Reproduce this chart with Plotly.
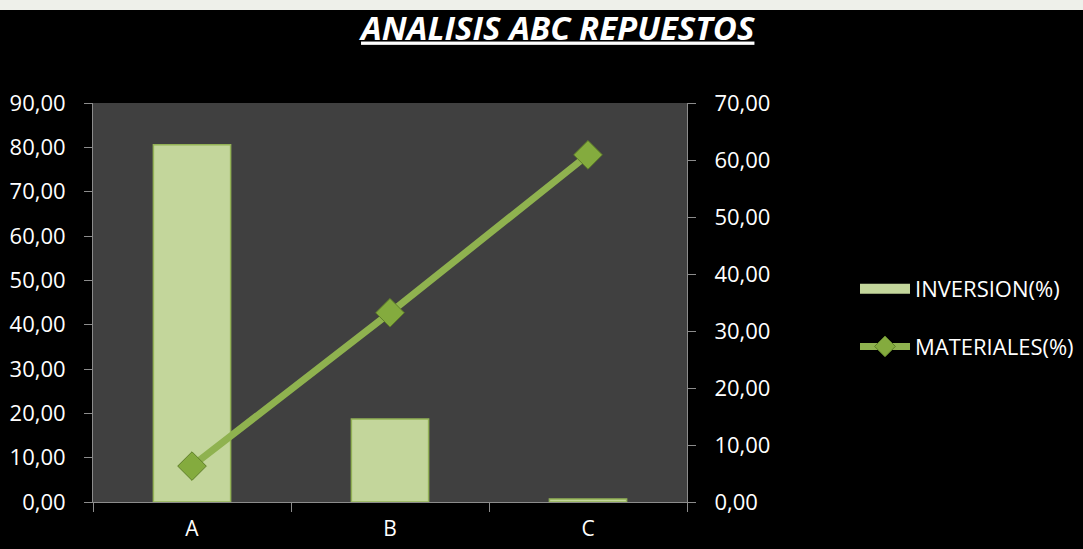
import plotly.graph_objects as go

categories = ["A", "B", "C"]
inversion = [80.6, 18.7, 0.7]
materiales = [6.3, 33.2, 60.9]

W, H = 1083, 549
L, R, T, B = 93, 396, 103, 47
ph = H - T - B

def py(p):
    return (H - B - p) / ph

fig = go.Figure()
fig.add_trace(go.Bar(
    x=categories, y=inversion, name="INVERSION(%)",
    width=0.39, showlegend=False,
    marker=dict(color="#c3d69b", line=dict(color="#93b256", width=1.5)),
))
# legend-only entry to mimic the wide bar swatch
fig.add_trace(go.Scatter(
    x=[None], y=[None], name="INVERSION(%)", mode="lines",
    line=dict(color="#c3d69b", width=14),
    legendgroup="g1",
))
fig.add_trace(go.Scatter(
    x=categories, y=materiales, name="MATERIALES(%)", yaxis="y2",
    mode="lines+markers",
    line=dict(color="#8fb24f", width=7),
    marker=dict(symbol="diamond", size=22, color="#84ab3e",
                line=dict(color="#5f7f2a", width=1)),
    legendgroup="g2",
))

font_family = "Open Sans"
fig.update_layout(
    width=W, height=H,
    margin=dict(l=L, r=R, t=T, b=B, autoexpand=False),
    paper_bgcolor="#000000",
    plot_bgcolor="#404040",
    separators=",.",
    font=dict(family=font_family, color="#ffffff", size=22),
    title=dict(
        text="<b><i><u>ANALISIS ABC REPUESTOS</u></i></b>",
        x=0.515, xanchor="center", y=1 - 28 / H, yanchor="middle",
        font=dict(size=33, color="#ffffff", family=font_family),
    ),
    xaxis=dict(
        showgrid=False, showline=True, linecolor="#8c8c8c", linewidth=1,
        ticks="outside", ticklen=9, tickcolor="#8c8c8c", tickson="boundaries",
        ticklabelstandoff=8, zeroline=False, automargin=False,
        tickfont=dict(size=21),
    ),
    yaxis=dict(
        range=[0, 90], dtick=10, tickformat=".2f",
        showgrid=False, showline=True, linecolor="#8c8c8c", linewidth=1,
        ticks="outside", ticklen=8, tickcolor="#8c8c8c", zeroline=False,
        ticklabelstandoff=14, automargin=False,
    ),
    yaxis2=dict(
        range=[0, 70], dtick=10, tickformat=".2f", overlaying="y", side="right",
        showgrid=False, showline=True, linecolor="#8c8c8c", linewidth=1,
        ticks="outside", ticklen=8, tickcolor="#8c8c8c", zeroline=False,
        ticklabelstandoff=14, automargin=False,
    ),
    legend=dict(
        x=(855 - L) / (W - L - R), xanchor="left",
        y=py(318), yanchor="middle",
        bgcolor="rgba(0,0,0,0)",
        font=dict(size=22, color="#ffffff", family=font_family),
        traceorder="grouped", tracegroupgap=26,
        itemwidth=50,
    ),
    shapes=[dict(
        type="rect", xref="paper", yref="paper",
        x0=(0 - L) / (W - L - R), x1=(W - L) / (W - L - R),
        y0=py(10), y1=py(0),
        fillcolor="#eef0ea", line=dict(width=0), layer="below",
    )],
)

fig.write_html(
    "out.html",
    config={"displayModeBar": False},
    post_script="document.body.style.margin='0';document.body.style.padding='0';",
)
